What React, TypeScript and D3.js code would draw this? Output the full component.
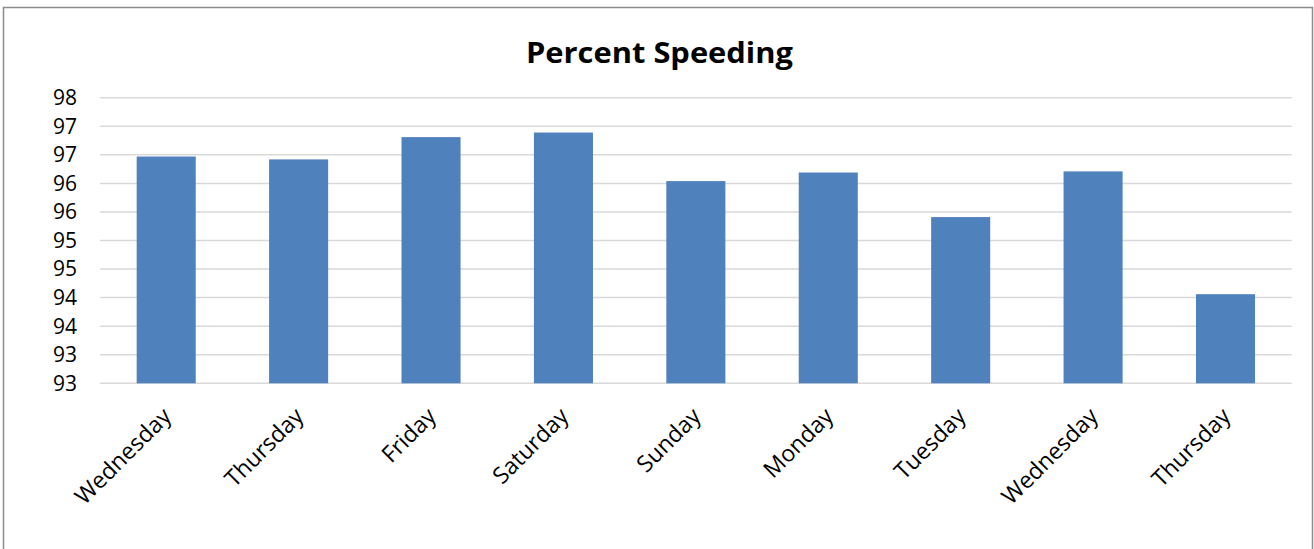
import React from 'react';
import * as d3 from 'd3';

// chart data
const days = ['Wednesday', 'Thursday', 'Friday', 'Saturday', 'Sunday', 'Monday', 'Tuesday', 'Wednesday', 'Thursday'];
const percentSpeeding = [96.47, 96.42, 96.81, 96.89, 96.04, 96.19, 95.41, 96.21, 94.06];
const yTicks = [92.5, 93, 93.5, 94, 94.5, 95, 95.5, 96, 96.5, 97, 97.5];

const width = 1314;
const height = 549;
const margin = { top: 97.7, right: 22.3, bottom: 165.7, left: 100 };
const font = "'Open Sans', 'DejaVu Sans', sans-serif";

const App: React.FC = () => {
  const innerWidth = width - margin.left - margin.right;
  const innerHeight = height - margin.top - margin.bottom;

  const x = d3
    .scaleBand<number>()
    .domain(days.map((_, i) => i))
    .range([0, innerWidth])
    .paddingInner(0.554)
    .paddingOuter(0.277);

  const y = d3.scaleLinear().domain([92.5, 97.5]).range([innerHeight, 0]);

  return (
    <svg
      width={width}
      height={height}
      style={{ position: 'absolute', left: 0, top: 0, background: '#fff' }}
    >
      {/* chart frame */}
      <rect x={3.5} y={7.5} width={1309} height={560} fill="#fff" stroke="#8c8c8c" strokeWidth={1.5} />

      <text
        x={659.5}
        y={63}
        textAnchor="middle"
        fontFamily={font}
        fontWeight="bold"
        fontSize={29}
        textLength={267}
        lengthAdjust="spacingAndGlyphs"
        fill="#000"
      >
        Percent Speeding
      </text>

      <g transform={`translate(${margin.left},${margin.top})`}>
        {yTicks.map((t) => (
          <g key={t} transform={`translate(0,${y(t)})`}>
            <line x1={0} x2={innerWidth} stroke="#d9d9d9" strokeWidth={1.5} />
            <text x={-23} dy="0.35em" textAnchor="end" fontFamily={font} fontSize={21} fill="#000">
              {Math.round(t + 0.001)}
            </text>
          </g>
        ))}

        {percentSpeeding.map((v, i) => (
          <rect
            key={i}
            x={x(i)}
            y={y(v)}
            width={x.bandwidth()}
            height={innerHeight - y(v)}
            fill="#4f81bd"
          />
        ))}

        {days.map((d, i) => {
          const cx = (x(i) ?? 0) + x.bandwidth() / 2 - 5;
          return (
            <text
              key={i}
              transform={`translate(${cx},${innerHeight + 23}) rotate(-45)`}
              textAnchor="end"
              dy="0.7em"
              fontFamily={font}
              fontSize={23}
              fill="#000"
            >
              {d}
            </text>
          );
        })}
      </g>
    </svg>
  );
};

export default App;
